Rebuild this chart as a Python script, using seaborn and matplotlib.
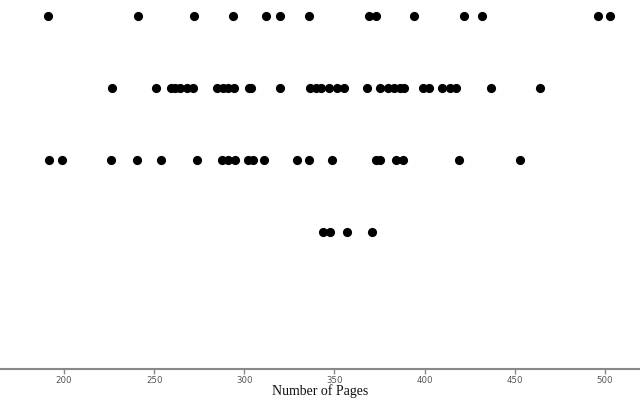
import matplotlib
matplotlib.use("Agg")
import matplotlib.pyplot as plt
import seaborn as sns
import pandas as pd

row_a = [191, 241, 272, 294, 312, 320, 336, 369, 373, 394, 422, 432, 496, 503]
row_b = [226.8, 250.8, 259.1, 261.5, 264.3, 268.3, 271.3, 284.6, 288, 291.1, 294.2,
         302.5, 304, 319.9, 336.3, 339.7, 342.4, 346.9, 351.3, 355.2, 367.8, 375.1,
         379.7, 383.1, 386.2, 388.6, 399.1, 402.3, 409.5, 414, 417.3, 437, 463.8]
row_c = [191.8, 198.7, 226, 240.6, 253.9, 274, 287.4, 291.1, 294.8, 302.1, 305.1,
         310.8, 329, 336.1, 348.9, 373.3, 375.5, 384, 388.1, 419.1, 452.7]
row_d = [343.4, 347.8, 357, 371.1]

groups = ["A", "B", "C", "D"]
rows = [row_a, row_b, row_c, row_d]
xticks = [200, 250, 300, 350, 400, 450, 500]

df = pd.DataFrame({
    "pages": [v for r in rows for v in r],
    "group": [g for g, r in zip(groups, rows) for _ in r],
})

sns.set_style("white")
fig = plt.figure(figsize=(6.4, 4.0), dpi=100)
ax_h = 369
bottom_px = 400 - ax_h
ax = fig.add_axes([0, bottom_px / 400, 1, ax_h / 400])
sns.stripplot(data=df, x="pages", y="group", order=groups, jitter=False,
              color="black", size=6.6, linewidth=0, ax=ax)

ax.set_xlim(164.5, 519.5)
ax.set_ylim((ax_h - 16) / 72, -16 / 72)
ax.set_yticks([])
ax.set_ylabel("")
ax.set_xticks(xticks)
ax.set_xticklabels([str(t) for t in xticks], fontsize=6.2, color="#555555",
                   family="DejaVu Sans")
ax.tick_params(axis="x", direction="out", length=3.5, width=1, color="#888888", pad=1.5,
               bottom=True)
for s in ["top", "left", "right"]:
    ax.spines[s].set_visible(False)
ax.spines["bottom"].set_color("#888888")
ax.spines["bottom"].set_linewidth(1.5)
ax.set_xlabel("Number of Pages", family="Liberation Serif", fontsize=10,
              color="#111111")
ax.xaxis.label.set_va("bottom")
ax.xaxis.set_label_coords(0.5, (1.5 - bottom_px) / ax_h)

fig.savefig("out.png", dpi=100)
